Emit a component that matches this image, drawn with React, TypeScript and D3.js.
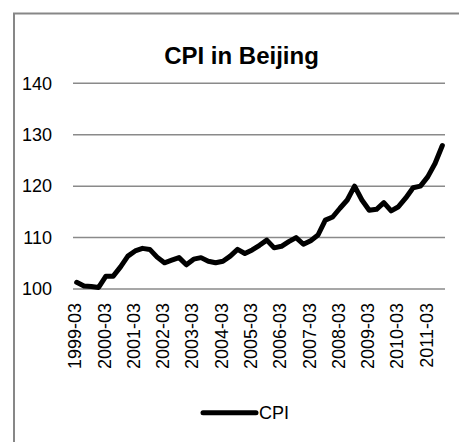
import * as d3 from 'd3'

const quarters: string[] = []
for (let y = 1999; y <= 2011; y++) {
  for (const m of ['03', '06', '09', '12']) {
    if (y === 2011 && m === '12') continue
    quarters.push(`${y}-${m}`)
  }
}

const cpi = [
  101.3, 100.6, 100.5, 100.3,
  102.5, 102.5, 104.3, 106.4,
  107.4, 107.9, 107.7, 106.2,
  105.1, 105.6, 106.1, 104.7,
  105.8, 106.1, 105.4, 105.1,
  105.4, 106.4, 107.7, 106.9,
  107.6, 108.5, 109.5, 108.0,
  108.3, 109.2, 110.0, 108.7,
  109.4, 110.5, 113.4, 114.0,
  115.7, 117.3, 120.0, 117.3,
  115.3, 115.5, 116.8, 115.2,
  116.0, 117.7, 119.7, 120.0,
  121.8, 124.4, 127.9,
]

const yTicks = [100, 110, 120, 130, 140]
const xLabels = quarters.filter(q => q.endsWith('-03'))

const W = 459
const H = 442
const font = '"Liberation Sans", Arial, sans-serif'

export default function App() {
  const x = d3.scalePoint<string>().domain(quarters).range([73, 446]).padding(0.5)
  const y = d3.scaleLinear().domain([100, 140]).range([289, 83.3])

  const line = d3.line<number>()
    .x((_, i) => x(quarters[i]) as number)
    .y(d => y(d))

  return (
    <svg width={W} height={H} style={{ position: 'absolute', left: 0, top: 0, background: '#fff' }}>
      {/* chart border, clipped on right and bottom */}
      <rect x={14} y={13.5} width={W} height={H} fill="#fff" stroke="#878787" strokeWidth={2} />

      <text x={241.5} y={64} textAnchor="middle" fontFamily={font} fontWeight="bold" fontSize={24}>
        CPI in Beijing
      </text>

      {yTicks.map(t => (
        <g key={t}>
          <line x1={73} x2={445} y1={y(t)} y2={y(t)} stroke="#8a8a8a" strokeWidth={1.5} />
          <text x={52} y={y(t)} dy="0.35em" textAnchor="end" fontFamily={font} fontSize={18}>
            {t}
          </text>
        </g>
      ))}

      {xLabels.map(q => (
        <text
          key={q}
          transform={`translate(${(x(q) as number) - 1.5},303) rotate(-90)`}
          dy="0.35em"
          textAnchor="end"
          fontFamily={font}
          fontSize={18}
        >
          {q}
        </text>
      ))}

      <path d={line(cpi) ?? ''} fill="none" stroke="#000" strokeWidth={5} strokeLinejoin="round" strokeLinecap="round" />

      <line x1={203} x2={256} y1={412.7} y2={412.7} stroke="#000" strokeWidth={5} strokeLinecap="round" />
      <text x={259} y={412.7} dy="0.35em" fontFamily={font} fontSize={18}>CPI</text>
    </svg>
  )
}
